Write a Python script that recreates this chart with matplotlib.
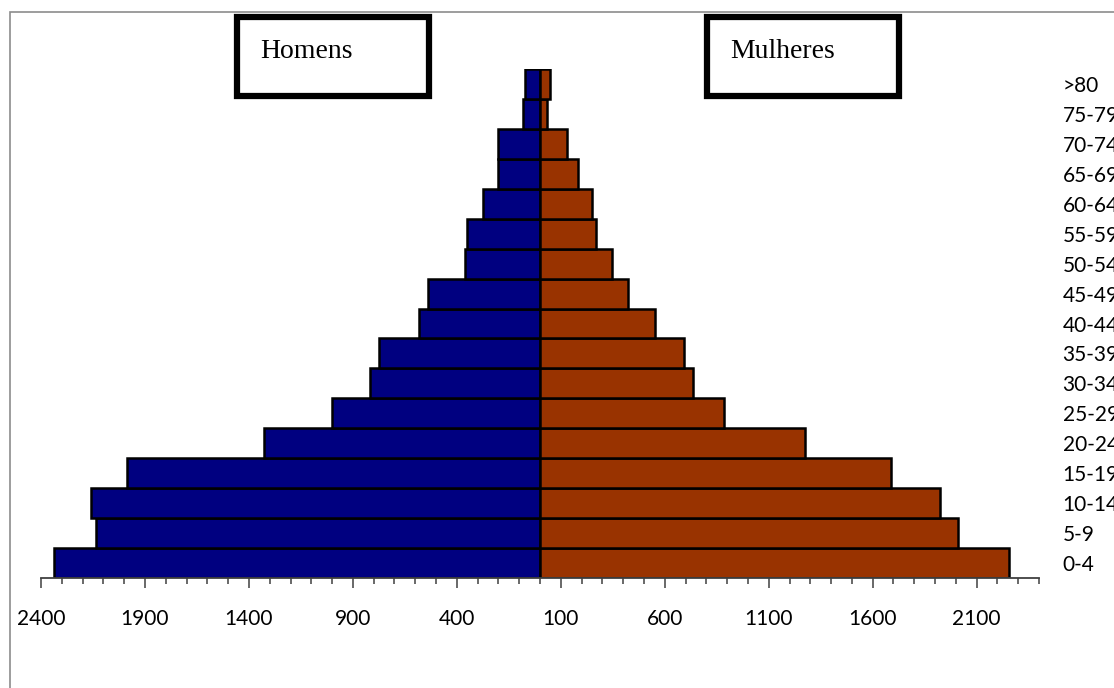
import numpy as np
import matplotlib
matplotlib.use("Agg")
import matplotlib.pyplot as plt
from matplotlib.patches import Rectangle
from matplotlib.ticker import FixedLocator, FuncFormatter

# --- data (bottom row first) ---
faixas = ['0-4', '5-9', '10-14', '15-19', '20-24', '25-29', '30-34', '35-39',
          '40-44', '45-49', '50-54', '55-59', '60-64', '65-69', '70-74',
          '75-79', '>80']
homens = [2336, 2136, 2160, 1988, 1328, 1000, 819, 773,
          584, 541, 360, 349, 272, 200, 200, 82, 72]
mulheres = [2254, 2009, 1922, 1687, 1274, 886, 736, 691,
            552, 421, 344, 267, 248, 181, 128, 32, 49]

major_ticks = list(range(-2400, 2101, 500))
minor_ticks = list(range(-2400, 2401, 100))

W, H = 1114, 688
fig = plt.figure(figsize=(W / 100, H / 100), dpi=100)

# chart-area frame (only top/left edge visible in the crop)
fig.patches.append(Rectangle((10 / W, -0.1), 1.2, 1 - 12 / H + 0.1,
                             transform=fig.transFigure, fill=False,
                             edgecolor='#8c8c8c', linewidth=1.2))

# plot area in pixels: x 41..1039, y 69..578
ax = fig.add_axes([41 / W, 1 - 578 / H, 998 / W, 509 / H])

y = np.arange(len(faixas))
ax.barh(y, -np.array(homens), height=1.0, color='#000080',
        edgecolor='black', linewidth=1.8)
ax.barh(y, mulheres, height=1.0, color='#993300',
        edgecolor='black', linewidth=1.8)

ax.set_xlim(-2400, 2400)
ax.set_ylim(-0.5, len(faixas) - 0.5)

for s in ['top', 'left', 'right']:
    ax.spines[s].set_visible(False)
ax.spines['bottom'].set_color('#404040')
ax.spines['bottom'].set_linewidth(1.3)

ax.xaxis.set_major_locator(FixedLocator(major_ticks))
ax.xaxis.set_minor_locator(FixedLocator(minor_ticks))
ax.xaxis.set_major_formatter(FuncFormatter(lambda v, p: f"{abs(int(v))}"))
ax.tick_params(axis='x', which='major', length=7, width=1.1, color='#404040',
               labelsize=15, pad=15)
ax.tick_params(axis='x', which='minor', length=4, width=1.1, color='#404040')
for lab in ax.get_xticklabels():
    lab.set_family('Lato')

ax.set_yticks(y)
ax.set_yticklabels(faixas, family='Lato', fontsize=15)
ax.yaxis.tick_right()
ax.tick_params(axis='y', length=0, pad=17)
for lab in ax.get_yticklabels():
    lab.set_horizontalalignment('left')

# sex boxes
for x0, txt in [(237, 'Homens'), (707, 'Mulheres')]:
    fig.patches.append(Rectangle((x0 / W, 1 - 96 / H), 192 / W, 79 / H,
                                 transform=fig.transFigure, fill=False,
                                 edgecolor='black', linewidth=4.5))
    fig.text((x0 + 23) / W, 1 - 51 / H, txt, family='Liberation Serif',
             fontsize=20, va='center', ha='left')

fig.savefig('out.png', dpi=100)
